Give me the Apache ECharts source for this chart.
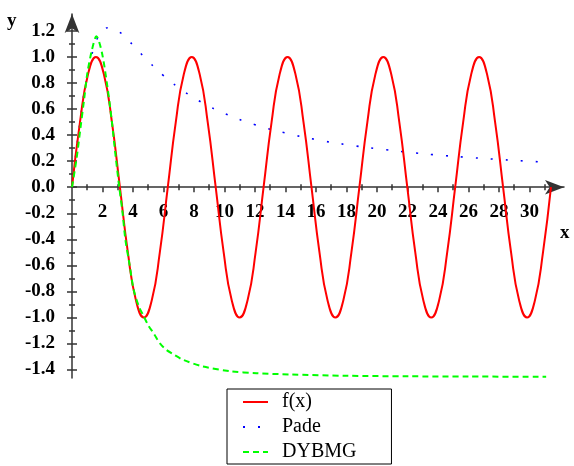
<!DOCTYPE html>
<html>
<head>
<meta charset="utf-8">
<script src="https://cdn.jsdelivr.net/npm/echarts@6/dist/echarts.min.js"></script>
<style>
  html, body { margin: 0; padding: 0; background: #fff; }
  #chart { width: 574px; height: 466px; }
</style>
</head>
<body>
<div id="chart"></div>
<script>
// f(x) = sin x, read at steps of pi/6
const fxX = [0, 0.524, 1.047, 1.571, 2.094, 2.618, 3.142, 3.665, 4.189, 4.712, 5.236, 5.760,
  6.283, 6.807, 7.330, 7.854, 8.378, 8.901, 9.425, 9.948, 10.472, 10.996, 11.519, 12.043,
  12.566, 13.090, 13.614, 14.137, 14.661, 15.184, 15.708, 16.232, 16.755, 17.279, 17.802, 18.326,
  18.850, 19.373, 19.897, 20.420, 20.944, 21.468, 21.991, 22.515, 23.038, 23.562, 24.086, 24.609,
  25.133, 25.656, 26.180, 26.704, 27.227, 27.751, 28.274, 28.798, 29.322, 29.845, 30.369, 30.892,
  31.416];
const fxY = [0, 0.5, 0.866, 1, 0.866, 0.5, 0, -0.5, -0.866, -1, -0.866, -0.5,
  0, 0.5, 0.866, 1, 0.866, 0.5, 0, -0.5, -0.866, -1, -0.866, -0.5,
  0, 0.5, 0.866, 1, 0.866, 0.5, 0, -0.5, -0.866, -1, -0.866, -0.5,
  0, 0.5, 0.866, 1, 0.866, 0.5, 0, -0.5, -0.866, -1, -0.866, -0.5,
  0, 0.5, 0.866, 1, 0.866, 0.5, 0, -0.5, -0.866, -1, -0.866, -0.5,
  0];

// Pade (blue dotted)
const padeX = [0, 0.5, 1, 1.5, 2, 2.45, 3, 3.5, 4, 5, 6, 7, 8, 9, 10, 12, 14, 16, 18, 20, 22, 24, 26, 28, 30, 31.4];
const padeY = [0, 0.48, 0.857, 1.091, 1.2, 1.225, 1.2, 1.151, 1.091, 0.968, 0.857, 0.764, 0.686, 0.621, 0.566,
  0.48, 0.416, 0.366, 0.327, 0.296, 0.269, 0.247, 0.229, 0.213, 0.199, 0.19];

// DYBMG (green dashed)
const dyX = [0, 0.3, 0.55, 0.8, 1.0, 1.3, 1.6, 1.95, 2.3, 2.6, 2.85, 3.1, 3.3, 3.5, 3.77, 4.05, 4.4, 4.7,
  5.0, 5.37, 5.77, 6.2, 6.68, 7.3, 8.6, 10.4, 12.1, 14.3, 18, 22, 26, 31.1];
const dyY = [0, 0.22, 0.45, 0.68, 0.87, 1.05, 1.16, 1.04, 0.79, 0.52, 0.25, 0, -0.18, -0.4, -0.59, -0.79, -0.92, -0.99,
  -1.06, -1.125, -1.2, -1.25, -1.285, -1.326, -1.377, -1.413, -1.428, -1.438, -1.448, -1.452, -1.454, -1.455];

const xMajor = [2, 4, 6, 8, 10, 12, 14, 16, 18, 20, 22, 24, 26, 28, 30];
const xMinor = [1, 3, 5, 7, 9, 11, 13, 15, 17, 19, 21, 23, 25, 27, 29, 31];
const yMajor = [-1.4, -1.2, -1.0, -0.8, -0.6, -0.4, -0.2, 0.0, 0.2, 0.4, 0.6, 0.8, 1.0, 1.2];
const yMinor = [-1.3, -1.1, -0.9, -0.7, -0.5, -0.3, -0.1, 0.1, 0.3, 0.5, 0.7, 0.9, 1.1];

const pairs = (xs, ys) => xs.map((x, i) => [x, ys[i]]);

const labelFont = { fontFamily: 'Liberation Serif', fontWeight: 'bold', fontSize: 19, color: '#000' };
const tickLine = { color: '#333', width: 1.5 };
const arrowLine = { onZero: true, onZeroAxisIndex: 0, symbol: ['none', 'arrow'], symbolSize: [11, 19], lineStyle: { color: '#333', width: 1.5 } };

function xAx(ticks, inside, len, main) {
  return {
    type: 'value', min: 0, max: 32.27, splitLine: { show: false },
    axisLine: main ? arrowLine : { show: false, onZero: true, onZeroAxisIndex: 0 },
    axisTick: { customValues: ticks, inside: inside, length: len, lineStyle: tickLine },
    axisLabel: { show: false }
  };
}
function yAx(ticks, inside, len, main) {
  return {
    type: 'value', min: -1.465, max: 1.33, position: 'left', splitLine: { show: false },
    axisLine: main ? arrowLine : { show: false, onZero: true, onZeroAxisIndex: 0 },
    axisTick: { customValues: ticks, inside: inside, length: len, lineStyle: tickLine },
    axisLabel: main
      ? Object.assign({ customValues: yMajor, margin: 17, padding: [8, 0, 0, 0], formatter: v => v.toFixed(1) }, labelFont)
      : { show: false }
  };
}

const chart = echarts.init(document.getElementById('chart'), null, { renderer: 'canvas' });
chart.setOption({
  animation: false,
  backgroundColor: '#fff',
  grid: { left: 72, right: 10, top: 14, bottom: 88 },
  xAxis: [
    xAx(xMajor, false, 5, true),
    xAx(xMajor, true, 5, false),
    xAx(xMinor, false, 3, false),
    xAx(xMinor, true, 3, false),
    // tick labels, moved up to sit under the y = 0 line
    {
      type: 'value', min: 0, max: 32.27, position: 'bottom', offset: -191,
      splitLine: { show: false },
      axisLine: { show: false, onZero: false },
      axisTick: { show: false },
      axisLabel: Object.assign({ customValues: xMajor, margin: 16, formatter: v => String(v) }, labelFont)
    }
  ],
  yAxis: [
    yAx(yMajor, false, 5, true),
    yAx(yMajor, true, 5, false),
    yAx(yMinor, false, 3, false),
    yAx(yMinor, true, 3, false)
  ],
  legend: {
    data: ['f(x)', 'Pade', 'DYBMG'],
    orient: 'vertical',
    left: 227, top: 389,
    padding: [3, 35, 2, 15],
    itemGap: 5, itemWidth: 25, itemHeight: 14,
    borderColor: '#000', borderWidth: 1,
    itemStyle: { color: 'rgba(0,0,0,0)', borderColor: 'rgba(0,0,0,0)', borderWidth: 0 },
    textStyle: { fontFamily: 'Liberation Serif', fontSize: 20, lineHeight: 20, color: '#000', padding: [0, 0, 0, 9] }
  },
  graphic: [
    { type: 'text', left: 7, top: 12, style: { text: 'y', font: 'bold 19px "Liberation Serif"', fill: '#000' } },
    { type: 'text', left: 560, top: 224, style: { text: 'x', font: 'bold 19px "Liberation Serif"', fill: '#000' } }
  ],
  series: [
    {
      name: 'f(x)', type: 'line', data: pairs(fxX, fxY), symbol: 'none', smooth: 0.5,
      itemStyle: { color: '#ff0000' }, lineStyle: { color: '#ff0000', width: 2 }, z: 3
    },
    {
      name: 'Pade', type: 'line', data: pairs(padeX, padeY), symbol: 'none', smooth: 0.5,
      itemStyle: { color: '#0000ff' }, lineStyle: { color: '#0000ff', width: 1.6, type: [2, 13] }, z: 2
    },
    {
      name: 'DYBMG', type: 'line', data: pairs(dyX, dyY), symbol: 'none', smooth: 0.3, clip: false,
      itemStyle: { color: '#00ff00' }, lineStyle: { color: '#00ff00', width: 2, type: [6, 4] }, z: 4
    }
  ]
});
</script>
</body>
</html>
